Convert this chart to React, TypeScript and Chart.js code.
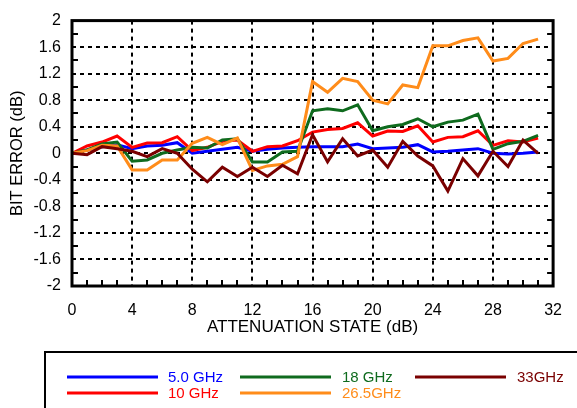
import React, { useEffect, useRef } from "react";
import { Chart, registerables } from "chart.js";

Chart.register(...registerables);

const attenuationStates = [0, 1, 2, 3, 4, 5, 6, 7, 8, 9, 10, 11, 12, 13, 14, 15, 16, 17, 18, 19, 20, 21, 22, 23, 24, 25, 26, 27, 28, 29, 30, 31];
const xTickValues = [0, 4, 8, 12, 16, 20, 24, 28, 32];
const yTickValues = [-2, -1.6, -1.2, -0.8, -0.4, 0, 0.4, 0.8, 1.2, 1.6, 2];
const yTickLabels = ["-2", "-1.6", "-1.2", "-0.8", "-0.4", "0", "0.4", "0.8", "1.2", "1.6", "2"];

const seriesLabels = ["5.0 GHz", "10 GHz", "18 GHz", "26.5GHz", "33GHz"];
const seriesColors = ["#0000ff", "#ff0000", "#0f6b1e", "#ff8c1a", "#7a0000"];

const err5GHz = [0, 0.05, 0.1, 0.13, 0.07, 0.11, 0.12, 0.16, 0.0, 0.03, 0.06, 0.09, 0.03, 0.06, 0.08, 0.09, 0.1, 0.1, 0.1, 0.14, 0.07, 0.08, 0.09, 0.13, 0.02, 0.03, 0.05, 0.07, 0.0, -0.01, 0.0, 0.02];
const err10GHz = [0, 0.11, 0.17, 0.26, 0.09, 0.155, 0.16, 0.25, 0.04, 0.09, 0.18, 0.2, 0.03, 0.1, 0.11, 0.19, 0.32, 0.36, 0.375, 0.46, 0.26, 0.335, 0.33, 0.415, 0.17, 0.24, 0.25, 0.34, 0.12, 0.19, 0.17, 0.23];
const err18GHz = [0, 0.05, 0.14, 0.17, -0.12, -0.1, 0.0, 0.05, 0.09, 0.08, 0.2, 0.22, -0.13, -0.13, 0.02, 0.03, 0.64, 0.67, 0.64, 0.73, 0.34, 0.4, 0.435, 0.52, 0.4, 0.47, 0.5, 0.59, 0.06, 0.145, 0.18, 0.27];
const err26GHz = [0, 0.04, 0.12, 0.11, -0.25, -0.25, -0.1, -0.1, 0.15, 0.24, 0.13, 0.23, -0.26, -0.19, -0.165, -0.05, 1.08, 0.92, 1.13, 1.08, 0.8, 0.745, 1.03, 0.99, 1.62, 1.62, 1.7, 1.74, 1.39, 1.43, 1.655, 1.72];
const err33GHz = [0, -0.02, 0.1, 0.07, 0.03, -0.05, 0.07, 0.0, -0.24, -0.43, -0.21, -0.35, -0.21, -0.35, -0.18, -0.31, 0.28, -0.13, 0.22, -0.04, 0.05, -0.21, 0.18, -0.04, -0.19, -0.57, -0.08, -0.34, 0.03, -0.2, 0.2, 0.0];

const seriesData = [err5GHz, err10GHz, err18GHz, err26GHz, err33GHz];

const FONT = "'Liberation Sans', Arial, Helvetica, sans-serif";

const framePlugin = {
  id: "frameAndGrid",
  beforeDatasetsDraw(chart: any) {
    const { ctx, chartArea, scales } = chart;
    const xs = scales.x;
    const ys = scales.y;
    const { left, right, top, bottom } = chartArea;
    ctx.save();
    ctx.strokeStyle = "#000";
    ctx.lineWidth = 2;
    ctx.setLineDash([4, 4]);
    xTickValues.forEach((v) => {
      const px = Math.round(xs.getPixelForValue(v));
      if (px <= left + 2 || px >= right - 2) return;
      ctx.beginPath();
      ctx.moveTo(px, top);
      ctx.lineTo(px, bottom);
      ctx.stroke();
    });
    yTickValues.forEach((v) => {
      const py = Math.round(ys.getPixelForValue(v));
      if (py <= top + 2 || py >= bottom - 2) return;
      ctx.beginPath();
      ctx.moveTo(left, py);
      ctx.lineTo(right, py);
      ctx.stroke();
    });
    ctx.setLineDash([]);
    ctx.lineWidth = 2;
    for (let v = 1; v < 32; v++) {
      if (v % 4 === 0) continue;
      const px = Math.round(xs.getPixelForValue(v));
      ctx.beginPath();
      ctx.moveTo(px, bottom);
      ctx.lineTo(px, bottom - 6);
      ctx.stroke();
    }
    for (let k = -9; k <= 9; k += 2) {
      const py = Math.round(ys.getPixelForValue(k * 0.2));
      ctx.beginPath();
      ctx.moveTo(left, py);
      ctx.lineTo(left + 6, py);
      ctx.moveTo(right, py);
      ctx.lineTo(right - 6, py);
      ctx.stroke();
    }
    ctx.restore();
  },
  afterDatasetsDraw(chart: any) {
    const { ctx, chartArea } = chart;
    const { left, right, top, bottom } = chartArea;
    ctx.save();
    ctx.strokeStyle = "#000";
    ctx.lineWidth = 3;
    ctx.strokeRect(left, top, right - left, bottom - top);
    ctx.restore();
  },
  afterDraw(chart: any) {
    const { ctx } = chart;
    ctx.save();
    ctx.strokeStyle = "#000";
    ctx.lineWidth = 2;
    ctx.beginPath();
    ctx.moveTo(45, 408);
    ctx.lineTo(45, 352);
    ctx.lineTo(577, 352);
    ctx.stroke();
    const cols = [
      { lx: 67, tx: 168 },
      { lx: 240, tx: 342 },
      { lx: 415, tx: 517 },
    ];
    const rows = [377, 393];
    ctx.font = `15px ${FONT}`;
    ctx.textBaseline = "middle";
    ctx.textAlign = "left";
    seriesLabels.forEach((label, i) => {
      const c = cols[Math.floor(i / 2)];
      const y = rows[i % 2];
      ctx.strokeStyle = seriesColors[i];
      ctx.lineWidth = 3;
      ctx.beginPath();
      ctx.moveTo(c.lx, y);
      ctx.lineTo(c.lx + 91, y);
      ctx.stroke();
      ctx.fillStyle = seriesColors[i];
      ctx.fillText(label, c.tx, y + 1);
    });
    ctx.restore();
  },
};

export default function App() {
  const canvasRef = useRef<HTMLCanvasElement | null>(null);

  useEffect(() => {
    const canvas = canvasRef.current;
    if (!canvas) return;
    const datasets = seriesLabels.map((label, i) => ({
      label,
      data: attenuationStates.map((x, j) => ({ x, y: seriesData[i][j] })),
      borderColor: seriesColors[i],
      backgroundColor: seriesColors[i],
      borderWidth: 3,
      pointRadius: 0,
      tension: 0,
      fill: false,
      order: 5 - i,
    }));
    const chart = new Chart(canvas, {
      type: "line",
      data: { datasets },
      options: {
        animation: false,
        responsive: false,
        devicePixelRatio: 1,
        layout: { padding: { left: 0, top: 15, right: 14, bottom: 0 } },
        plugins: {
          legend: { display: false },
          tooltip: { enabled: false },
        },
        scales: {
          x: {
            type: "linear",
            min: 0,
            max: 32,
            grid: { display: false, drawTicks: false },
            border: { display: false },
            afterBuildTicks: (scale: any) => {
              scale.ticks = xTickValues.map((v) => ({ value: v }));
            },
            afterFit: (scale: any) => {
              scale.height = 122;
            },
            ticks: {
              autoSkip: false,
              maxRotation: 0,
              color: "#000",
              padding: 15,
              font: { family: FONT, size: 16 },
              callback: (v: any) => String(v),
            },
            title: {
              display: true,
              text: "ATTENUATION STATE (dB)",
              color: "#000",
              font: { family: FONT, size: 17 },
              padding: { top: 0, bottom: 70 },
            },
          },
          y: {
            type: "linear",
            min: -2,
            max: 2,
            grid: { display: false, drawTicks: false },
            border: { display: false },
            afterBuildTicks: (scale: any) => {
              scale.ticks = yTickValues.map((v) => ({ value: v }));
            },
            afterFit: (scale: any) => {
              scale.width = 72;
            },
            ticks: {
              autoSkip: false,
              color: "#000",
              padding: 11,
              font: { family: FONT, size: 16 },
              callback: (_v: any, idx: number) => yTickLabels[idx],
            },
            title: {
              display: true,
              text: "BIT ERROR (dB)",
              color: "#000",
              font: { family: FONT, size: 16.5 },
              padding: { top: 8, bottom: 0 },
            },
          },
        },
      },
      plugins: [framePlugin],
    });
    return () => chart.destroy();
  }, []);

  return (
    <div style={{ position: "fixed", left: 0, top: 0, width: 577, height: 408, background: "#fff" }}>
      <canvas ref={canvasRef} width={577} height={408} style={{ display: "block" }} />
    </div>
  );
}
